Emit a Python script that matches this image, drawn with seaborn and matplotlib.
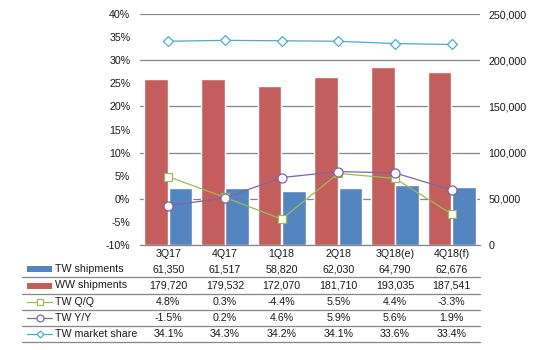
import numpy as np
import pandas as pd
import matplotlib
matplotlib.use("Agg")
import matplotlib.pyplot as plt
import seaborn as sns
from matplotlib.lines import Line2D
from matplotlib.patches import Rectangle

quarters = ["3Q17", "4Q17", "1Q18", "2Q18", "3Q18(e)", "4Q18(f)"]
tw_ship = [61350, 61517, 58820, 62030, 64790, 62676]
ww_ship = [179720, 179532, 172070, 181710, 193035, 187541]
tw_qq = [4.8, 0.3, -4.4, 5.5, 4.4, -3.3]
tw_yy = [-1.5, 0.2, 4.6, 5.9, 5.6, 1.9]
tw_share = [34.1, 34.3, 34.2, 34.1, 33.6, 33.4]
left_ticks = [-10, -5, 0, 5, 10, 15, 20, 25, 30, 35, 40]
right_ticks = [0, 50000, 100000, 150000, 200000, 250000]

BLUE = "#5585C1"
RED = "#C45E5C"
GREEN = "#9BBB59"
PURPLE = "#8064A2"
CYAN = "#4BACC6"
GRID = "#868686"
TXT = "#1a1a1a"

sns.set_theme(style="white")
plt.rcParams['font.family'] = ['Liberation Sans', 'DejaVu Sans']
FS = 7.7

W, H = 539, 350
fig = plt.figure(figsize=(W / 100, H / 100), dpi=100)
fig.patch.set_facecolor("white")

def fx(x):
    return x / W

def fy(y):
    return 1 - y / H

ax = fig.add_axes([fx(140), fy(245), (480 - 140) / W, (245 - 14) / H])
ax2 = ax.twinx()

bars = pd.DataFrame({
    "quarter": quarters * 2,
    "series": ["WW shipments"] * len(quarters) + ["TW shipments"] * len(quarters),
    "value": ww_ship + tw_ship,
})
sns.barplot(data=bars, x="quarter", y="value", hue="series",
            hue_order=["WW shipments", "TW shipments"], palette=[RED, BLUE],
            width=0.86, gap=0.03, saturation=1, ax=ax2, legend=False)

xpos = np.arange(len(quarters))
line_specs = [
    (tw_qq, GREEN, "s", 6.0),
    (tw_yy, PURPLE, "o", 6.5),
    (tw_share, CYAN, "D", 5.0),
]
for vals, col, mk, ms in line_specs:
    sns.lineplot(x=xpos, y=vals, ax=ax, color=col, marker=mk, markersize=ms,
                 markerfacecolor="white", markeredgecolor=col, markeredgewidth=0.9,
                 linewidth=0.9)

ax.set_zorder(ax2.get_zorder() + 1)
ax.patch.set_visible(False)

ax.set_ylim(-10, 40)
ax2.set_ylim(0, 250000)
ax.set_xlim(-0.5, len(quarters) - 0.5)
ax2.set_xlim(-0.5, len(quarters) - 0.5)

ax.set_yticks(left_ticks)
ax.set_yticklabels([f"{v}%" for v in left_ticks], fontsize=FS, color=TXT)
ax2.set_yticks(right_ticks)
ax2.set_yticklabels([f"{v:,}" for v in right_ticks], fontsize=FS, color=TXT)
ax.set_xticks(xpos)
ax.set_xticklabels(quarters, fontsize=FS, color=TXT)
ax.tick_params(axis="y", length=0, pad=7)
ax2.tick_params(axis="y", length=0, pad=6)
ax.tick_params(axis="x", length=0, pad=3)
ax.set_xlabel("")
ax.set_ylabel("")
ax2.set_xlabel("")
ax2.set_ylabel("")

ax2.yaxis.grid(True, color=GRID, linewidth=0.9)
ax2.set_axisbelow(True)
ax.grid(False)
for a in (ax, ax2):
    for s in ("left", "right", "top", "bottom"):
        a.spines[s].set_visible(False)
ax2.spines["bottom"].set_visible(True)
ax2.spines["bottom"].set_color(GRID)
ax2.spines["bottom"].set_linewidth(0.9)

# data table
row_labels = ["TW shipments", "WW shipments", "TW Q/Q", "TW Y/Y", "TW market share"]
row_vals = [
    [f"{v:,}" for v in tw_ship],
    [f"{v:,}" for v in ww_ship],
    [f"{v:.1f}%" for v in tw_qq],
    [f"{v:.1f}%" for v in tw_yy],
    [f"{v:.1f}%" for v in tw_share],
]
row_y = [269, 285.5, 302, 318, 334]
sep_y = [277, 293.5, 310, 326, 342]
fig.canvas.draw()
col_x = [fig.transFigure.inverted().transform(ax.transData.transform((i, 0)))[0] for i in xpos]

for lab, vals, y in zip(row_labels, row_vals, row_y):
    fig.text(fx(55), fy(y), lab, fontsize=FS, color=TXT, ha="left", va="center")
    for cx, v in zip(col_x, vals):
        fig.text(cx, fy(y), v, fontsize=FS, color=TXT, ha="center", va="center")

for y in sep_y:
    fig.add_artist(Line2D([fx(22), fx(480)], [fy(y), fy(y)], color=GRID, linewidth=0.9))

# legend keys
fig.add_artist(Rectangle((fx(27), fy(272)), (52 - 27) / W, 6 / H, color=BLUE, lw=0))
fig.add_artist(Rectangle((fx(27), fy(288.5)), (52 - 27) / W, 6 / H, color=RED, lw=0))
for (vals, col, mk, ms), y in zip(line_specs, row_y[2:]):
    fig.add_artist(Line2D([fx(27), fx(52)], [fy(y), fy(y)], color=col, linewidth=0.9))
    fig.add_artist(Line2D([fx(39.5)], [fy(y)], color=col, marker=mk, markersize=ms - 1.5,
                          markerfacecolor="white", markeredgecolor=col, markeredgewidth=0.9,
                          linestyle="none"))

fig.savefig("out.png", dpi=100, facecolor="white")
